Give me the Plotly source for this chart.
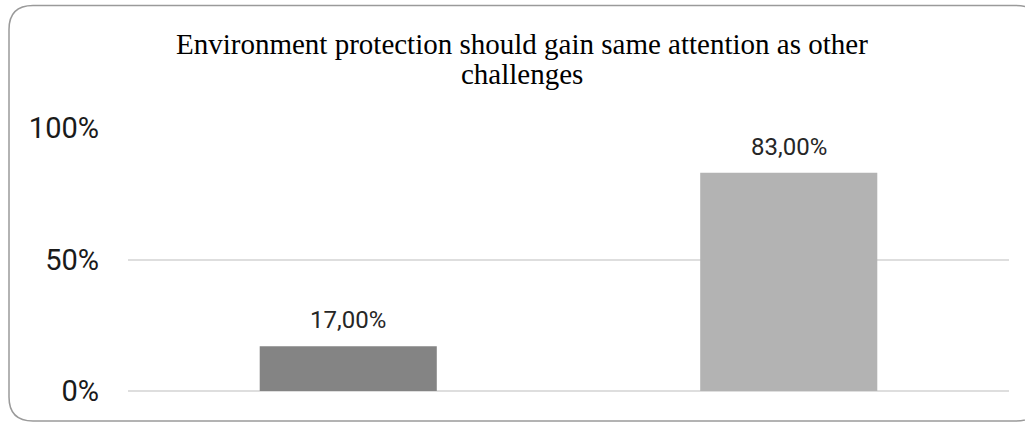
import plotly.graph_objects as go

# ---- data ----
categories = ["No", "Yes"]
values = [0.17, 0.83]
bar_colors = ["#848484", "#b3b3b3"]
label_texts = ["17,00%", "83,00%"]
tick_vals = [0, 0.5, 1.0]
tick_text = ["0%", "50%", "100%"]
title_lines = ["Environment protection should gain same attention as other", "challenges"]

# ---- layout geometry (pixels) ----
W, H = 1025, 422
L, R, T, B = 128, 1009, 128, 391


def px_x(x):
    return (x - L) / (R - L)


def px_y(y):
    return (B - y) / (B - T)


fig = go.Figure()
fig.add_trace(go.Bar(
    x=categories, y=values,
    marker=dict(color=bar_colors, line=dict(width=0)),
    hoverinfo="skip",
))

# data labels
for c, v, t in zip(categories, values, label_texts):
    fig.add_annotation(
        x=c, y=v, xref="x", yref="y", text=t, showarrow=False,
        yanchor="middle", yshift=26,
        font=dict(family="Roboto", size=24, color="#262626"),
    )

# title (two lines, custom spacing)
for i, line in enumerate(title_lines):
    fig.add_annotation(
        x=px_x(522), y=px_y(44 + 30 * i), xref="paper", yref="paper",
        text=line, showarrow=False, xanchor="center", yanchor="middle",
        font=dict(family="Liberation Serif", size=29, color="#000000"),
    )

# rounded border
bl, bt, br, bb, r = 9, 5.5, 1040, 421, 24
def P(x, y):
    return f"{px_x(x):.5f},{px_y(y):.5f}"
path = (
    f"M {P(bl + r, bt)} L {P(br - r, bt)} Q {P(br, bt)} {P(br, bt + r)} "
    f"L {P(br, bb - r)} Q {P(br, bb)} {P(br - r, bb)} "
    f"L {P(bl + r, bb)} Q {P(bl, bb)} {P(bl, bb - r)} "
    f"L {P(bl, bt + r)} Q {P(bl, bt)} {P(bl + r, bt)} Z"
)
fig.add_shape(type="path", path=path, xref="paper", yref="paper",
              line=dict(color="#9a9a9a", width=1.5), layer="above")

fig.update_layout(
    width=W, height=H,
    margin=dict(l=L, r=W - R, t=T, b=H - B, pad=0),
    paper_bgcolor="white", plot_bgcolor="white",
    bargap=0.598,
    showlegend=False,
    xaxis=dict(showticklabels=False, showgrid=False, zeroline=False,
               showline=False, ticks=""),
    yaxis=dict(range=[0, 1], tickvals=tick_vals, ticktext=tick_text,
               showgrid=True, gridcolor="#dedede", gridwidth=1.5,
               zeroline=True, zerolinecolor="#dedede", zerolinewidth=1.5,
               showline=False, ticks="", ticklabelstandoff=28,
               tickfont=dict(family="Roboto", size=29, color="#1a1a1a")),
)

fig.write_html("out.html")
